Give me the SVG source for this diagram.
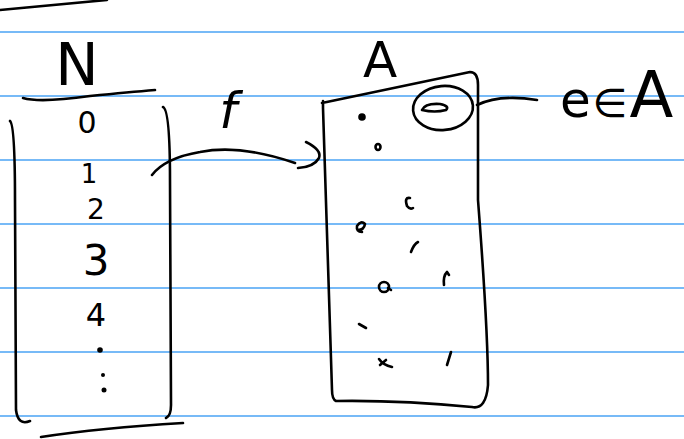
<svg xmlns="http://www.w3.org/2000/svg" width="684" height="439" viewBox="0 0 684 439">
<style>
.rule{stroke:#4aa3f5;stroke-width:1.6}
.ink{fill:none;stroke:#000;stroke-width:2.6;stroke-linecap:round;stroke-linejoin:round}
.dot{fill:#000}
.t{font-family:"DejaVu Sans","Liberation Sans",sans-serif;fill:#000}
</style>
<rect width="684" height="439" fill="#fff"/>
<g id="ruling">
<line class="rule" x1="0" y1="32" x2="684" y2="32"/>
<line class="rule" x1="0" y1="96" x2="684" y2="96"/>
<line class="rule" x1="0" y1="160" x2="684" y2="160"/>
<line class="rule" x1="0" y1="224" x2="684" y2="224"/>
<line class="rule" x1="0" y1="288" x2="684" y2="288"/>
<line class="rule" x1="0" y1="352" x2="684" y2="352"/>
<line class="rule" x1="0" y1="416" x2="684" y2="416"/>
</g>
<path class="ink" d="M0 10 L107 0"/>
<g id="setN">
<text class="t" x="77" y="85" font-size="58" text-anchor="middle">N</text>
<path class="ink" d="M23 98 Q40 103 90 96 Q130 92 155 90"/>
<path class="ink" d="M10 121 Q15 125 15 200 L16 410 Q18 426 30 421"/>
<path class="ink" d="M163 107 Q170 110 170 180 L171 405 Q171 416 166 418"/>
<path class="ink" d="M41 437 Q100 428 183 423"/>
<text class="t" x="87" y="133" font-size="30" text-anchor="middle">0</text>
<text class="t" x="89" y="183" font-size="26" text-anchor="middle">1</text>
<text class="t" x="96" y="219" font-size="28" text-anchor="middle">2</text>
<text class="t" x="96" y="275" font-size="42" text-anchor="middle">3</text>
<text class="t" x="96" y="326" font-size="32" text-anchor="middle">4</text>
<circle class="dot" cx="100" cy="350" r="2.8"/>
<circle class="dot" cx="103" cy="375" r="2"/>
<circle class="dot" cx="104" cy="390" r="2.5"/>
</g>
<g id="connectors">
<path class="ink" d="M152 175 Q165 158 200 152 Q240 144 295 163"/>
<path class="ink" d="M306 142 Q322 150 319 158 Q314 167 298 168"/>
<path class="ink" d="M477 105 Q500 94 537 100"/>
</g>
<text class="t" x="228" y="128" font-size="50" font-style="italic" font-family="Liberation Serif,serif" text-anchor="middle">f</text>
<g id="setA">
<text class="t" x="380" y="77" font-size="50" text-anchor="middle">A</text>
<path class="ink" d="M322 103 L470 72 Q478 72 478 85 L478 200 Q488 330 488 385 Q486 410 472 407 Q400 400 336 401 Q332 399 332 390 L323 108 L323 101"/>
<ellipse class="ink" cx="443" cy="108" rx="30" ry="22" transform="rotate(-5 443 108)"/>
<path class="ink" d="M422 110 Q425 103 440 104 Q450 106 446 110 Q435 113 422 110"/>
<g stroke-width="2.4" class="ink">
<circle class="dot" cx="362" cy="117" r="2.5"/>
<ellipse cx="378" cy="147" rx="2.5" ry="3"/>
<path d="M410 198 Q404 197 407 206 Q410 210 413 208"/>
<path d="M362 232 Q356 232 357 226 Q361 220 365 224 Q364 230 358 230"/>
<path d="M411 252 Q414 244 418 242"/>
<ellipse cx="384" cy="287" rx="5" ry="5"/>
<path d="M391 290 L388 288"/>
<path d="M444 285 Q443 276 447 272 L449 275"/>
<path d="M359 324 L366 328"/>
<path d="M379 359 Q383 365 392 367 M386 360 L380 365"/>
<path d="M447 365 L451 352"/>
</g>
</g>
<text class="t" x="560" y="117" font-size="50"><tspan>e</tspan><tspan font-size="40" dx="2">∈</tspan><tspan font-size="64" dx="2">A</tspan></text>
</svg>
